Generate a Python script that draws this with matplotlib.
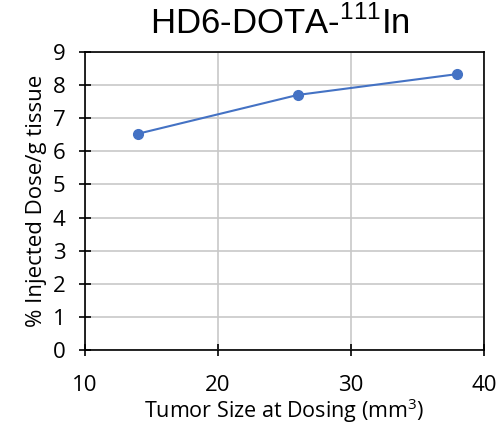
import matplotlib
matplotlib.use("Agg")
import matplotlib.pyplot as plt

# tumor size at dosing (mm3) vs uptake
tumor_size = [14, 26, 38]
uptake = [6.53, 7.70, 8.33]

x_ticks = [10, 20, 30, 40]
y_ticks = list(range(0, 10))

plt.rcParams["font.family"] = ["Open Sans", "DejaVu Sans"]

fig = plt.figure(figsize=(4.99, 4.25), dpi=100)
ax = fig.add_axes([0.170, 0.176, 0.800, 0.702])

ax.plot(tumor_size, uptake, color="#4472C4", linewidth=1.5,
        marker="o", markersize=7, zorder=3)

ax.set_xlim(10, 40)
ax.set_ylim(0, 9)
ax.set_xticks(x_ticks)
ax.set_yticks(y_ticks)
ax.grid(True, color="#c8c8c8", linewidth=1.2)
ax.set_axisbelow(True)
for s in ax.spines.values():
    s.set_color("black")
    s.set_linewidth(1.2)
ax.tick_params(direction="inout", length=8, width=1.2, labelsize=16)
ax.tick_params(axis="x", pad=14)
ax.tick_params(axis="y", pad=10)

ax.set_xlabel("Tumor Size at Dosing (mm$^\\mathregular{3}$)", fontsize=15.5, labelpad=0)
ax.set_ylabel("% Injected Dose/g tissue", fontsize=16, labelpad=4)
fig.text(0.56, 0.945, "HD6-DOTA-$^\\mathregular{111}$In", ha="center", va="center",
         fontsize=25, family="Liberation Sans")

fig.savefig("out.png", dpi=100)
